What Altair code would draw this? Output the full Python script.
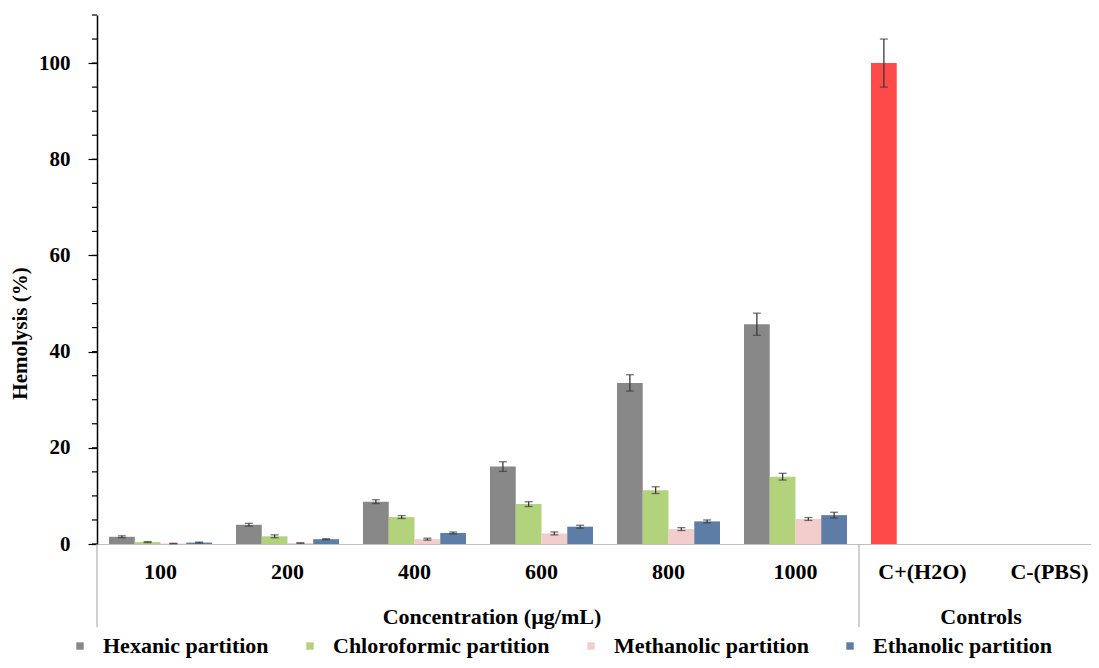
import altair as alt
import pandas as pd

# ---------------- data ----------------
categories = ["100", "200", "400", "600", "800", "1000", "C+(H2O)", "C-(PBS)"]
concentrations = ["100", "200", "400", "600", "800", "1000"]
series = ["Hexanic partition", "Chloroformic partition", "Methanolic partition", "Ethanolic partition"]

hexanic = [1.5, 4.0, 8.8, 16.1, 33.5, 45.7]
hexanic_err = [0.2, 0.3, 0.4, 1.0, 1.7, 2.3]
chloroformic = [0.4, 1.6, 5.6, 8.3, 11.2, 14.0]
chloroformic_err = [0.1, 0.3, 0.3, 0.5, 0.7, 0.7]
methanolic = [0.1, 0.2, 1.0, 2.2, 3.1, 5.2]
methanolic_err = [0.05, 0.05, 0.2, 0.3, 0.3, 0.3]
ethanolic = [0.3, 1.0, 2.3, 3.6, 4.7, 6.0]
ethanolic_err = [0.1, 0.1, 0.2, 0.3, 0.3, 0.6]

control_cats = ["C+(H2O)"]
control_vals = [100.0]
control_errs = [5.0]
control_key = "Positive control"

conc_label = ["Concentration (µg/mL)"]
conc_anchor = ["600"]
ctrl_label = ["Controls"]
ctrl_anchor = ["C-(PBS)"]
separator_cats = ["100", "C+(H2O)"]
y_major = [0, 20, 40, 60, 80, 100]
y_minor = list(range(0, 111, 5))

colors = ["#888888", "#b2d27b", "#f3cccc", "#5d7ca6", "#ff4a4a"]

# ---------------- table ----------------
rows = []
for name, vals, errs in [
    (series[0], hexanic, hexanic_err),
    (series[1], chloroformic, chloroformic_err),
    (series[2], methanolic, methanolic_err),
    (series[3], ethanolic, ethanolic_err),
]:
    for c, v, e in zip(concentrations, vals, errs):
        rows.append({"cat": c, "series": name, "key": name, "value": v,
                     "lo": v - e, "hi": v + e})
for c, v, e in zip(control_cats, control_vals, control_errs):
    rows.append({"cat": c, "series": series[0], "key": control_key, "value": v,
                 "lo": v - e, "hi": v + e})
df = pd.DataFrame(rows)

FONT = "Liberation Serif"
FS = 22
FSY = 21

x_scale = alt.Scale(domain=categories, range=[0, 1016], paddingInner=0, paddingOuter=0)
xoff = alt.XOffset("series:N", sort=series,
                   scale=alt.Scale(domain=series, paddingInner=0, paddingOuter=0.466))
y_scale = alt.Scale(domain=[0, 110], nice=False, zero=True)

base = alt.Chart(df)

bars = base.mark_bar().encode(
    x=alt.X("cat:N", sort=categories, scale=x_scale,
            axis=alt.Axis(title=None, ticks=False, labelAngle=0, domainColor="#c0c0c0",
                          domainWidth=1.2, labelFont=FONT, labelFontSize=FS,
                          labelFontWeight="bold", labelColor="black", labelPadding=17)),
    xOffset=xoff,
    y=alt.Y("value:Q", scale=y_scale,
            axis=alt.Axis(values=y_major, tickSize=9, tickColor="black", tickWidth=1.2,
                          domainColor="black", domainWidth=1.5, labelFont=FONT,
                          labelFontSize=FSY, labelFontWeight="bold", labelColor="black",
                          labelPadding=18, title="Hemolysis (%)", titleFont=FONT,
                          titleFontSize=FSY, titleFontWeight="bold", titleColor="black",
                          titleAngle=270, titleX=-77, titleY=318, titleBaseline="middle",
                          titleAlign="center")),
    color=alt.Color("key:N", scale=alt.Scale(domain=series + [control_key], range=colors),
                    legend=alt.Legend(values=series, orient="none", legendX=-28, legendY=620,
                                      direction="horizontal", title=None, symbolType="square",
                                      symbolSize=55, symbolStrokeWidth=0, labelFont=FONT,
                                      labelFontSize=FS, labelFontWeight="bold",
                                      labelColor="black", labelOffset=12, columnPadding=30,
                                      labelLimit=400)),
)

err_rules = base.mark_rule(color="#3a3a3a", strokeWidth=1.3).encode(
    x=alt.X("cat:N", sort=categories, scale=x_scale),
    xOffset=xoff,
    y=alt.Y("lo:Q", scale=y_scale),
    y2="hi:Q",
)

err_caps = base.transform_fold(["lo", "hi"], as_=["end", "yv"]).mark_tick(
    color="#3a3a3a", thickness=1.3, size=8
).encode(
    x=alt.X("cat:N", sort=categories, scale=x_scale),
    xOffset=xoff,
    y=alt.Y("yv:Q", scale=y_scale),
)

minor_ticks = alt.Chart(pd.DataFrame({"v": y_minor})).mark_rule(
    color="black", strokeWidth=1.2
).encode(
    y=alt.Y("v:Q", scale=y_scale),
    x=alt.value(-5),
    x2=alt.value(0),
)

separators = alt.Chart(pd.DataFrame({"cat": separator_cats})).mark_rule(
    color="#b0b0b0", strokeWidth=1.2
).encode(
    x=alt.X("cat:N", sort=categories, scale=x_scale, bandPosition=0),
    y=alt.value(529),
    y2=alt.value(612),
)


def group_layer(labels, anchors, dx):
    return alt.Chart(pd.DataFrame({"cat": anchors, "label": labels})).mark_text(
        font=FONT, fontSize=FS, fontWeight="bold", color="black", baseline="middle",
        align="center", dx=dx
    ).encode(
        x=alt.X("cat:N", sort=categories, scale=x_scale, bandPosition=0),
        y=alt.value(602),
        text="label:N",
    )


conc_text = group_layer(conc_label, conc_anchor, 14)
ctrl_text = group_layer(ctrl_label, ctrl_anchor, -5)

chart = alt.layer(bars, err_rules, err_caps, minor_ticks, separators, conc_text, ctrl_text).properties(
    width=994,
    height=529,
    padding={"left": 89, "top": 7, "right": 0, "bottom": 116},
    autosize=alt.AutoSizeParams(type="none"),
    background="white",
).configure_view(stroke=None).configure_axis(grid=False)

chart.save("out.html", embed_options={"renderer": "svg", "actions": False})
